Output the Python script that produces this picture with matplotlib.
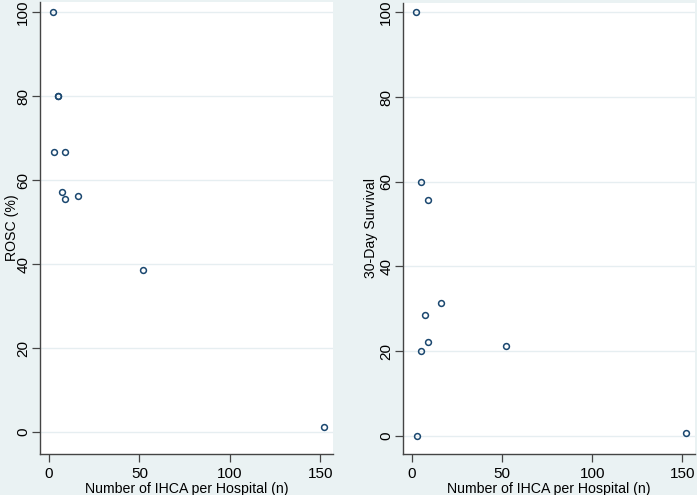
import matplotlib
matplotlib.use("Agg")
import matplotlib.pyplot as plt

plt.rcParams['font.family'] = ['Liberation Sans', 'DejaVu Sans']

# Number of IHCA per hospital
n_rosc = [2, 5, 5, 3, 9, 7, 9, 16, 52, 152]
rosc = [100, 80, 80, 66.7, 66.7, 57.1, 55.6, 56.25, 38.5, 1.3]

n_surv = [2, 5, 9, 16, 7, 9, 5, 3, 52, 152]
surv = [100, 60, 55.6, 31.25, 28.6, 22.2, 20, 0, 21.2, 0.66]

xticks = [0, 50, 100, 150]
yticks = [0, 20, 40, 60, 80, 100]
xlabel = "Number of IHCA per Hospital (n)"
ylabels = ["ROSC (%)", "30-Day Survival"]

bg = '#EAF2F3'
mk = '#1a476f'
fig = plt.figure(figsize=(6.97, 4.95), dpi=100, facecolor=bg)

axL = fig.add_axes([40/697, 1-454/495, (333-40)/697, (454-2)/495])
axR = fig.add_axes([403/697, 1-454/495, (695-403)/697, (454-3)/495])

for ax, xs, ys, yl, ylim, lx in [(axL, n_rosc, rosc, ylabels[0], (-5.2, 102.4), -0.072),
                                 (axR, n_surv, surv, ylabels[1], (-4.3, 102.2), -0.085)]:
    ax.set_facecolor('white')
    ax.plot(xs, ys, 'o', mfc='none', mec=mk, mew=1.1, ms=4.2, zorder=3)
    ax.set_xlim(-5, 157)
    ax.set_ylim(*ylim)
    ax.set_xticks(xticks)
    ax.set_yticks(yticks)
    ax.grid(axis='y', color='#E6EEF1', lw=1.0)
    ax.grid(axis='x', visible=False)
    ax.set_axisbelow(True)
    for s in ['top', 'right']:
        ax.spines[s].set_visible(False)
    for s in ['left', 'bottom']:
        ax.spines[s].set_color('#444444')
        ax.spines[s].set_linewidth(1.0)
    ax.tick_params(axis='both', length=6, width=0.9, color='#444444',
                   labelsize=11, labelcolor='black', pad=3)
    ax.tick_params(axis='y', pad=1)
    for lab in ax.get_yticklabels():
        lab.set_rotation(90)
        lab.set_va('center')
    ax.set_xlabel(xlabel, fontsize=10.2, labelpad=1)
    ax.set_ylabel(yl, fontsize=10.2)
    ax.yaxis.set_label_coords(lx, 0.5)

fig.savefig('out.png', dpi=100, facecolor=bg)
